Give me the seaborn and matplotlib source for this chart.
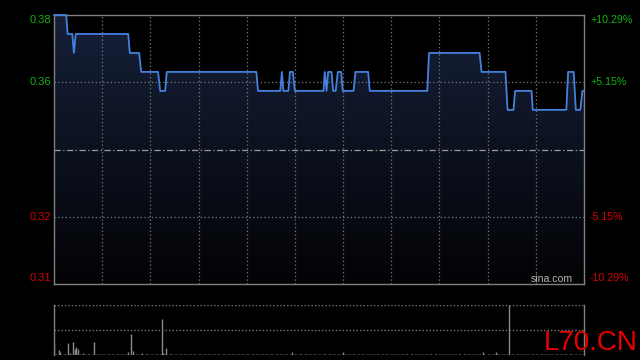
import numpy as np
import pandas as pd
import matplotlib
matplotlib.use("Agg")
import matplotlib.pyplot as plt
import seaborn as sns

# ---- data ----
prev_close = 0.34455
# price vertices: minute index (0..330 over HK session) and price
price_times = [0, 7.6, 8.5, 11.4, 12.4, 13.5, 46.2, 47.2, 53.0, 54.3, 64.8, 66.1, 69.2, 70.2,
               126.0, 127.0, 140.9, 141.9, 142.8, 145.9, 146.9, 148.7, 150.0, 167.8, 168.6,
               169.7, 170.7, 172.8, 173.8, 175.4, 176.7, 178.8, 179.8, 186.5, 187.7, 195.6,
               196.6, 232.4, 233.5, 265.0, 266.2, 281.1, 282.4, 286.1, 287.1, 297.3, 298.1,
               319.0, 320.1, 323.6, 324.9, 327.7, 329.0, 330.0]
price_values = [0.380, 0.380, 0.375, 0.375, 0.370, 0.375, 0.375, 0.370, 0.370, 0.365, 0.365,
                0.360, 0.360, 0.365, 0.365, 0.360, 0.360, 0.365, 0.360, 0.360, 0.365, 0.365,
                0.360, 0.360, 0.365, 0.360, 0.365, 0.365, 0.360, 0.360, 0.365, 0.365, 0.360,
                0.360, 0.365, 0.365, 0.360, 0.360, 0.370, 0.370, 0.365, 0.365, 0.355, 0.355,
                0.360, 0.360, 0.355, 0.355, 0.365, 0.365, 0.355, 0.355, 0.360, 0.360]

# volume bars (minute, volume)
vol_times = [0, 3, 4, 9, 10, 12, 13, 14, 15, 18, 25, 46, 48, 49, 55, 67, 68, 70,
             148, 180, 267, 275, 283]
vol_values = [11, 5, 3, 12, 2, 13, 6, 8, 6, 2, 13, 3, 21, 4, 2, 36, 2, 7,
              3, 3, 3, 3, 51]
# tiny baseline volume for the remaining minutes
small_vol_times = [t for t in range(0, 331) if t % 3 != 2 and t not in vol_times]
small_vol_values = [1] * len(small_vol_times)

left_labels = ["0.38", "0.36", "0.32", "0.31"]
right_labels = ["+10.29%", "+5.15%", "-5.15%", "-10.29%"]
label_colors = ["#13b313", "#13b313", "#d40000", "#d40000"]
label_ypix = [20, 81.7, 216.7, 278.3]

# ---- figure ----
sns.set_theme(style="dark")
plt.rcParams["font.family"] = ["Liberation Sans", "DejaVu Sans"]
W, H = 640, 360
fig = plt.figure(figsize=(6.4, 3.6), dpi=100, facecolor="black")

def px(x0, y0, x1, y1):
    return [x0 / W, 1 - y1 / H, (x1 - x0) / W, (y1 - y0) / H]

ax = fig.add_axes(px(54, 15, 584, 284))
ax.set_facecolor("black")
ymin, ymax = prev_close * (1 - 0.1029), prev_close * (1 + 0.1029)
ax.set_xlim(0, 330)
ax.set_ylim(ymin, ymax)

df = pd.DataFrame({"t": price_times, "p": price_values})

# gradient fill under the line
grad = np.linspace(0, 1, 256).reshape(-1, 1)
top_c = np.array([0.085, 0.125, 0.225])
bot_c = np.array([0.012, 0.012, 0.02])
img = top_c * (1 - grad[..., None]) + bot_c * grad[..., None]
img = img.reshape(256, 1, 3)
poly = ax.fill_between(df["t"], df["p"], ymin, color="none", lw=0)
im = ax.imshow(img, extent=[0, 330, ymin, ymax], aspect="auto", origin="upper", zorder=1)
im.set_clip_path(poly.get_paths()[0], transform=ax.transData)

# grid
gcol = "#7a7a7a"
for t in range(30, 330, 30):
    ax.axvline(t, color=gcol, lw=0.9, ls=(0, (1, 2)), zorder=2)
for f in (1.0515, 0.9485):
    ax.axhline(prev_close * f, color=gcol, lw=0.9, ls=(0, (1, 2)), zorder=2)
ax.axhline(prev_close, color="#9a9a9a", lw=0.9, ls=(0, (5, 2, 1, 2)), zorder=2)

sns.lineplot(data=df, x="t", y="p", ax=ax, color="#4580dc", lw=1.3, zorder=5)
for ln in ax.get_lines()[-1:]:
    ln.set_clip_on(False)
ax.set_xlabel("")
ax.set_ylabel("")
ax.set_xticks([])
ax.set_yticks([])
for s in ax.spines.values():
    s.set_color("#808080")
    s.set_linewidth(1)
    s.set_visible(True)
    s.set_zorder(4)
ax.grid(False)

ax.text(0.979, 0.0, "sina.com", transform=ax.transAxes, ha="right", va="bottom",
        color="#b4b4b4", fontsize=7.6, zorder=4)

for lab, col, yp in zip(left_labels, label_colors, label_ypix):
    fig.text(51 / W, 1 - yp / H, lab, ha="right", va="center", color=col, fontsize=8)
for lab, col, yp in zip(right_labels, label_colors, label_ypix):
    fig.text(590 / W, 1 - yp / H, lab, ha="left", va="center", color=col, fontsize=7.7)

# volume panel
vax = fig.add_axes(px(54, 304.5, 584, 355))
vax.set_facecolor("black")
vax.set_xlim(0, 330)
vax.set_ylim(0, 51)
vax.vlines(small_vol_times, 0, small_vol_values, color="#7a7a7a", lw=1)
vax.vlines(vol_times, 0, vol_values, color="#8a8a8a", lw=1)
vax.axhline(51, color=gcol, lw=1, ls=(0, (1, 1.5)))
vax.axhline(25.5, color=gcol, lw=1, ls=(0, (1, 1.5)))
vax.set_xticks([])
vax.set_yticks([])
vax.grid(False)
for k in ("top", "bottom"):
    vax.spines[k].set_visible(False)
for k in ("left", "right"):
    vax.spines[k].set_color("#808080")
    vax.spines[k].set_linewidth(1)

fig.text(544 / W, 1 - 350 / H, "L70.CN", ha="left", va="baseline", color="#e80000",
         fontsize=20)

fig.savefig("out.png", dpi=100, facecolor="black")
